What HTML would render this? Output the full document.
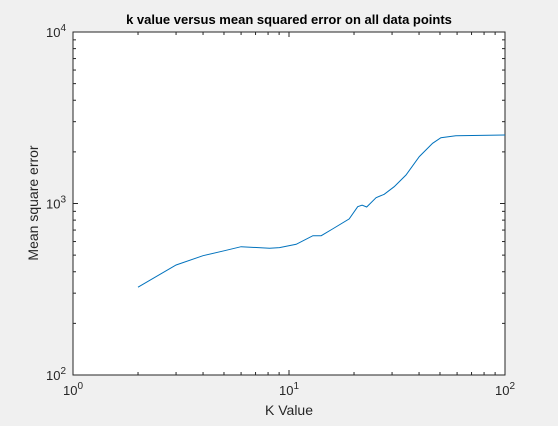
<!DOCTYPE html>
<html><head><meta charset="utf-8"><style>
body{margin:0;background:#f0f0f0;width:558px;height:421px;overflow:hidden;font-family:"Liberation Sans",sans-serif}
svg text{font-family:"Liberation Sans",sans-serif}
</style></head><body>
<svg id="chart" width="558" height="421" xmlns="http://www.w3.org/2000/svg">
<rect x="73" y="32" width="432" height="343" fill="#fff"/>
<text x="289" y="24" text-anchor="middle" font-size="13" font-weight="bold" fill="#000">k value versus mean squared error on all data points</text>
<text x="289" y="415" text-anchor="middle" font-size="14" fill="#262626">K Value</text>
<text transform="translate(38,203) rotate(-90)" text-anchor="middle" font-size="14" fill="#262626">Mean square error</text>
<g id="axes"></g>
<polyline id="line" fill="none" stroke="#0072bd" stroke-width="1"/>
</svg>
<script>
const kValues=[2,3,4,5,6,8.13,9.04,10.8,12.9,14.1,15.9,19.0,20.8,21.8,22.9,25.3,27.6,30.7,34.8,40.1,46.2,50.5,59.2,100];
const mseValues=[325,438,496,530,560,548,553,578,649,649,710,813,958,977,954,1081,1132,1253,1466,1876,2245,2420,2486,2508];
const xTickLabels=["0","1","2"];
const yTickLabels=["2","3","4"];
const L=73,R=505,T=32,B=375;
function xs(v){return L+(Math.log10(v)-0)/2*(R-L);}
function ys(v){return B-(Math.log10(v)-2)/2*(B-T);}
const NS="http://www.w3.org/2000/svg";
const ax=document.getElementById('axes');
function mk(t,a){const e=document.createElementNS(NS,t);for(const k in a)e.setAttribute(k,a[k]);ax.appendChild(e);return e;}
const box=mk('rect',{x:L,y:T,width:R-L,height:B-T,fill:'none',stroke:'#262626','stroke-width':1});


for(let d=0;d<2;d++){for(let m=1;m<=10;m++){const v=Math.pow(10,d)*m;const len=(m===1||m===10)?5:3;
const x=xs(v);
const t1=mk('line',{x1:x,x2:x,y1:B,y2:B-len,stroke:'#262626'});


const t2=mk('line',{x1:x,x2:x,y1:T,y2:T+len,stroke:'#262626'});


const yv=100*v;const y=ys(yv);
const t3=mk('line',{x1:L,x2:L+len,y1:y,y2:y,stroke:'#262626'});


const t4=mk('line',{x1:R,x2:R-len,y1:y,y2:y,stroke:'#262626'});

}}
xTickLabels.forEach((p,i)=>{const t=mk('text',{x:xs(Math.pow(10,+p)),y:395,'text-anchor':'middle','font-size':13,fill:'#262626'});


t.innerHTML='10<tspan dy="-6" font-size="10">'+p+'</tspan>';});
yTickLabels.forEach((p,i)=>{const t=mk('text',{x:57,y:ys(Math.pow(10,+p))+5,'text-anchor':'end','font-size':13,fill:'#262626'});


t.innerHTML='10<tspan dy="-6" font-size="10">'+p+'</tspan>';
t.setAttribute('x',66);});
document.getElementById('line').setAttribute('points',kValues.map((k,i)=>xs(k).toFixed(1)+','+ys(mseValues[i]).toFixed(1)).join(' '));
</script>
</body></html>
